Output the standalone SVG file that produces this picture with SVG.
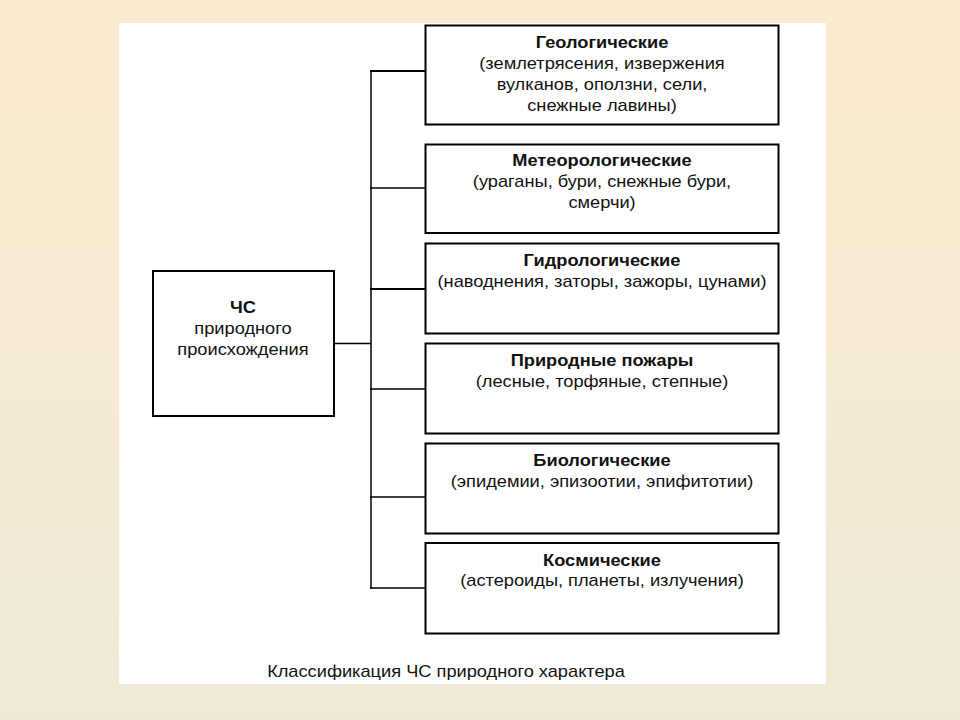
<svg xmlns="http://www.w3.org/2000/svg" width="960" height="720" viewBox="0 0 960 720">
<defs>
<linearGradient id="bg" x1="0" y1="0" x2="0" y2="1">
<stop offset="0" stop-color="#FDEBD0"/>
<stop offset="1" stop-color="#EFEAD6"/>
</linearGradient>
<style>
.box{fill:#fff;stroke:#000;stroke-width:2}
.t{font-family:"Liberation Sans",Arial,sans-serif;font-size:16px;fill:#111;text-anchor:middle}
.b{font-weight:bold}
.c{fill:none;stroke:#000;stroke-width:1.5}
.ct{stroke-width:2}
</style>
</defs>
<rect x="0" y="0" width="960" height="720" fill="url(#bg)"/>
<rect x="119" y="23" width="707" height="661" fill="#fff"/>

<g id="connectors">
<line class="c" x1="371" y1="70" x2="371" y2="589"/>
<line class="c" x1="334" y1="343.5" x2="371" y2="343.5"/>
<line class="c ct" x1="370" y1="71" x2="425" y2="71"/>
<line class="c" x1="370" y1="188" x2="425" y2="188"/>
<line class="c ct" x1="370" y1="289" x2="425" y2="289"/>
<line class="c" x1="370" y1="389" x2="425" y2="389"/>
<line class="c" x1="370" y1="497" x2="425" y2="497"/>
<line class="c" x1="370" y1="588" x2="425" y2="588"/>
</g>

<g id="root">
<rect class="box" x="153" y="271" width="181" height="145"/>
<g transform="translate(243,0) scale(1.14,1)">
<text class="t b" x="0" y="313">ЧС</text>
<text class="t" x="0" y="334">природного</text>
<text class="t" x="0" y="355">происхождения</text>
</g>
</g>

<g id="geo">
<rect class="box" x="425.5" y="25.5" width="353" height="99"/>
<g transform="translate(602,0) scale(1.14,1)">
<text class="t b" x="0" y="48">Геологические</text>
<text class="t" x="0" y="69">(землетрясения, извержения</text>
<text class="t" x="0" y="90">вулканов, оползни, сели,</text>
<text class="t" x="0" y="111">снежные лавины)</text>
</g>
</g>

<g id="meteo">
<rect class="box" x="425.5" y="144.5" width="353" height="88.5"/>
<g transform="translate(602,0) scale(1.14,1)">
<text class="t b" x="0" y="166">Метеорологические</text>
<text class="t" x="0" y="187">(ураганы, бури, снежные бури,</text>
<text class="t" x="0" y="208">смерчи)</text>
</g>
</g>

<g id="hydro">
<rect class="box" x="425.5" y="243.5" width="353" height="90"/>
<g transform="translate(602,0) scale(1.14,1)">
<text class="t b" x="0" y="266">Гидрологические</text>
<text class="t" x="0" y="287">(наводнения, заторы, зажоры, цунами)</text>
</g>
</g>

<g id="fire">
<rect class="box" x="425.5" y="343.5" width="353" height="90"/>
<g transform="translate(602,0) scale(1.14,1)">
<text class="t b" x="0" y="366">Природные пожары</text>
<text class="t" x="0" y="387">(лесные, торфяные, степные)</text>
</g>
</g>

<g id="bio">
<rect class="box" x="425.5" y="443.5" width="353" height="90"/>
<g transform="translate(602,0) scale(1.14,1)">
<text class="t b" x="0" y="466">Биологические</text>
<text class="t" x="0" y="487">(эпидемии, эпизоотии, эпифитотии)</text>
</g>
</g>

<g id="cosmic">
<rect class="box" x="425.5" y="543" width="353" height="90.5"/>
<g transform="translate(602,0) scale(1.14,1)">
<text class="t b" x="0" y="566">Космические</text>
<text class="t" x="0" y="586">(астероиды, планеты, излучения)</text>
</g>
</g>

<g id="caption" transform="translate(446,0) scale(1.14,1)">
<text class="t" x="0" y="677">Классификация ЧС природного характера</text>
</g>
</svg>
